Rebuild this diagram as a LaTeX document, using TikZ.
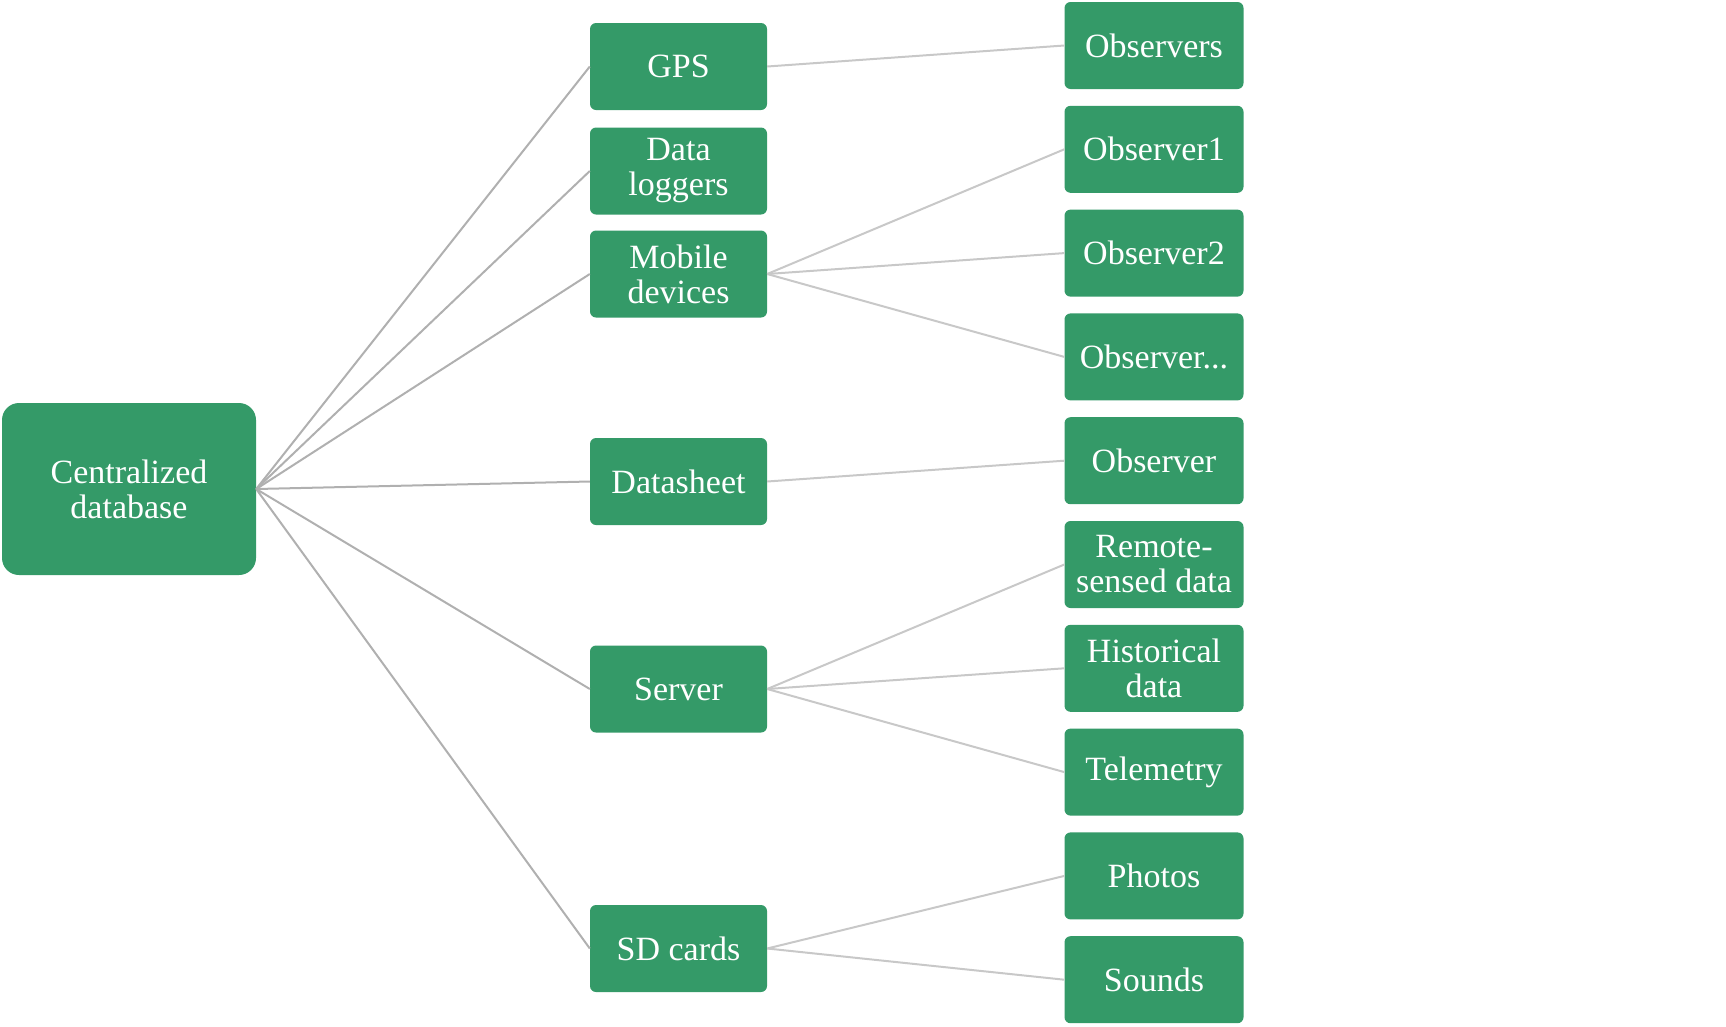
\documentclass[tikz,border=0pt]{standalone}
\usepackage{fontspec}
\setmainfont{Liberation Serif}
\definecolor{boxgreen}{RGB}{52,154,104}
\definecolor{linkA}{RGB}{176,176,176}
\definecolor{linkB}{RGB}{200,200,200}
\tikzset{
  lvbox/.style={draw=none, fill=boxgreen, text=white, rounded corners=6pt,
    minimum width=177pt, minimum height=87pt, inner sep=0pt, align=center,
    font=\fontsize{34}{35}\selectfont},
  rootbox/.style={lvbox, minimum width=254pt, minimum height=172pt, rounded corners=17pt},
  leafbox/.style={lvbox, minimum width=179pt},
  linkone/.style={draw=linkA, line width=2pt},
  linktwo/.style={draw=linkB, line width=2pt}
}
\begin{document}
\begin{tikzpicture}[x=1pt,y=-1pt]
\useasboundingbox (0,0) rectangle (1726,1026);
\node[rootbox] (root) at (129,489) {Centralized\\database};
\node[lvbox] (gps) at (678.5,66.5) {GPS};
\node[lvbox] (dl) at (678.5,171) {Data\\loggers};
\node[lvbox] (mob) at (678.5,274) {Mobile\\devices};
\node[lvbox] (ds) at (678.5,481.5) {Datasheet};
\node[lvbox] (srv) at (678.5,689) {Server};
\node[lvbox] (sd) at (678.5,948.5) {SD cards};
\node[leafbox] (o0) at (1154,45.5) {Observers};
\node[leafbox] (o1) at (1154,149.3) {Observer1};
\node[leafbox] (o2) at (1154,253.1) {Observer2};
\node[leafbox] (o3) at (1154,356.9) {Observer...};
\node[leafbox] (o4) at (1154,460.7) {Observer};
\node[leafbox] (o5) at (1154,564.5) {Remote-\\sensed data};
\node[leafbox] (o6) at (1154,668.3) {Historical\\data};
\node[leafbox] (o7) at (1154,772.1) {Telemetry};
\node[leafbox] (o8) at (1154,875.9) {Photos};
\node[leafbox] (o9) at (1154,979.7) {Sounds};
\foreach \t in {gps,dl,mob,ds,srv,sd}
  \draw[linkone] (root.east) -- (\t.west);
\draw[linktwo] (gps.east) -- (o0.west);
\foreach \t in {o1,o2,o3}
  \draw[linktwo] (mob.east) -- (\t.west);
\draw[linktwo] (ds.east) -- (o4.west);
\foreach \t in {o5,o6,o7}
  \draw[linktwo] (srv.east) -- (\t.west);
\foreach \t in {o8,o9}
  \draw[linktwo] (sd.east) -- (\t.west);
\end{tikzpicture}
\end{document}
